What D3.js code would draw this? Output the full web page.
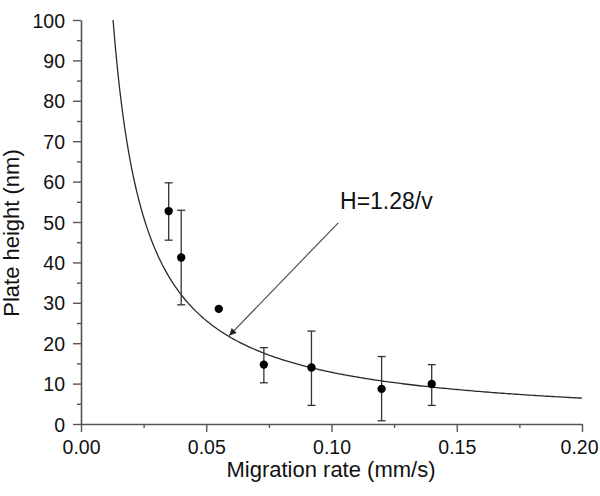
<!DOCTYPE html>
<html><head><meta charset="utf-8">
<script src="https://cdn.jsdelivr.net/npm/d3@7"></script>
<style>
html,body{margin:0;padding:0;background:#fff;}
svg{display:block;font-family:"Liberation Sans",Arial,sans-serif;}
</style></head>
<body>
<svg id="chart" width="600" height="496"></svg>
<script>
// Data
const migrationRate = [0.035, 0.040, 0.055, 0.073, 0.092, 0.120, 0.140];
const plateHeight   = [52.7, 41.2, 28.5, 14.7, 14.0, 8.7, 9.9];
const errUpper      = [59.7, 52.9, 28.5, 18.9, 23.0, 16.7, 14.7];
const errLower      = [45.5, 29.5, 28.5, 10.2, 4.6, 0.8, 4.6];
const fitConstant = 1.28;               // H = 1.28 / v
const fitLabel = "H=1.28/v";
const xTicks = [0, 0.05, 0.10, 0.15, 0.20];
const yTicks = [0,10,20,30,40,50,60,70,80,90,100];
const xMinor = [0.025, 0.075, 0.125, 0.175];
const yMinor = [5,15,25,35,45,55,65,75,85,95];
const arrowFrom = [0.1027, 49.8];
const arrowTo = [0.0592, 21.9];
const labelAt = [0.1034, 53.2];

const svg = d3.select("#chart");
const x = d3.scaleLinear().domain([0, 0.2]).range([81, 582]);
const y = d3.scaleLinear().domain([0, 100]).range([424, 20]);
const axisColor = "#555";

// fit curve
const vStart = fitConstant / 100;
const curvePts = d3.range(0, 301).map(i => {
  const v = vStart + (0.2 - vStart) * Math.pow(i / 300, 1.6);
  return [v, fitConstant / v];
});
svg.append("path")
  .datum(curvePts)
  .attr("fill", "none").attr("stroke", "#2a2a2a").attr("stroke-width", 1.3)
  .attr("d", d3.line().x(d => x(d[0])).y(d => y(d[1])));

// axes
const xAxis = svg.append("g").attr("transform", "translate(0,424)")
  .call(d3.axisBottom(x).tickValues(xTicks).tickFormat(d3.format(".2f")).tickSizeInner(8).tickSizeOuter(0).tickPadding(8));
const xAxisMinor = svg.append("g").attr("transform", "translate(0,424)")
  .call(d3.axisBottom(x).tickValues(xMinor).tickFormat("").tickSizeInner(4).tickSizeOuter(0));
const yAxis = svg.append("g").attr("transform", "translate(81,0)")
  .call(d3.axisLeft(y).tickValues(yTicks).tickSizeInner(8).tickSizeOuter(0).tickPadding(8));
const yAxisMinor = svg.append("g").attr("transform", "translate(81,0)")
  .call(d3.axisLeft(y).tickValues(yMinor).tickFormat("").tickSizeInner(4).tickSizeOuter(0));
[xAxis, xAxisMinor, yAxis, yAxisMinor].forEach(g => {
  g.select(".domain").attr("stroke", axisColor).attr("stroke-width", 1.6);
  g.selectAll(".tick line").attr("stroke", axisColor).attr("stroke-width", 1.4);
  g.selectAll(".tick text").attr("fill", "#111").attr("font-size", 19.5)
    .attr("font-family", "'Liberation Sans',Arial,sans-serif");
});
xAxisMinor.select(".domain").remove();
yAxisMinor.select(".domain").remove();
yAxis.selectAll(".tick text").attr("dy", "0.36em");
xAxis.selectAll(".tick text").filter(d => d === 0.2).attr("text-anchor", "end").attr("dx", "0.82em");

// axis titles
svg.append("text").attr("x", 331).attr("y", 477).attr("text-anchor", "middle")
  .attr("font-size", 22).attr("fill", "#111").text("Migration rate (mm/s)");
svg.append("text").attr("transform", "translate(19,233) rotate(-90)")
  .attr("text-anchor", "middle").attr("font-size", 22).attr("fill", "#111")
  .text("Plate height (nm)");

// error bars
const idx = d3.range(migrationRate.length);
const eb = svg.append("g").attr("stroke", "#333").attr("stroke-width", 1.3);
idx.filter(i => errUpper[i] !== errLower[i]).forEach(i => {
  const cx = x(migrationRate[i]);
  eb.append("line").attr("x1", cx).attr("x2", cx).attr("y1", y(errUpper[i])).attr("y2", y(errLower[i]));
  eb.append("line").attr("x1", cx - 4).attr("x2", cx + 4).attr("y1", y(errUpper[i])).attr("y2", y(errUpper[i]));
  eb.append("line").attr("x1", cx - 4).attr("x2", cx + 4).attr("y1", y(errLower[i])).attr("y2", y(errLower[i]));
});

// points
svg.append("g").selectAll("circle").data(idx).join("circle")
  .attr("cx", i => x(migrationRate[i])).attr("cy", i => y(plateHeight[i]))
  .attr("r", 4.2).attr("fill", "#000");

// annotation arrow
svg.append("defs").append("marker").attr("id", "ah")
  .attr("viewBox", "0 0 10 10").attr("refX", 10).attr("refY", 5)
  .attr("markerWidth", 9).attr("markerHeight", 7).attr("markerUnits", "userSpaceOnUse")
  .attr("orient", "auto")
  .append("path").attr("d", "M0,0L10,5L0,10Z").attr("fill", "#222");
svg.append("line")
  .attr("x1", x(arrowFrom[0])).attr("y1", y(arrowFrom[1]))
  .attr("x2", x(arrowTo[0])).attr("y2", y(arrowTo[1]))
  .attr("stroke", "#444").attr("stroke-width", 1.1).attr("marker-end", "url(#ah)");
svg.append("text").attr("x", x(labelAt[0])).attr("y", y(labelAt[1]))
  .attr("font-size", 23).attr("fill", "#111").text(fitLabel);
</script>
</body></html>
